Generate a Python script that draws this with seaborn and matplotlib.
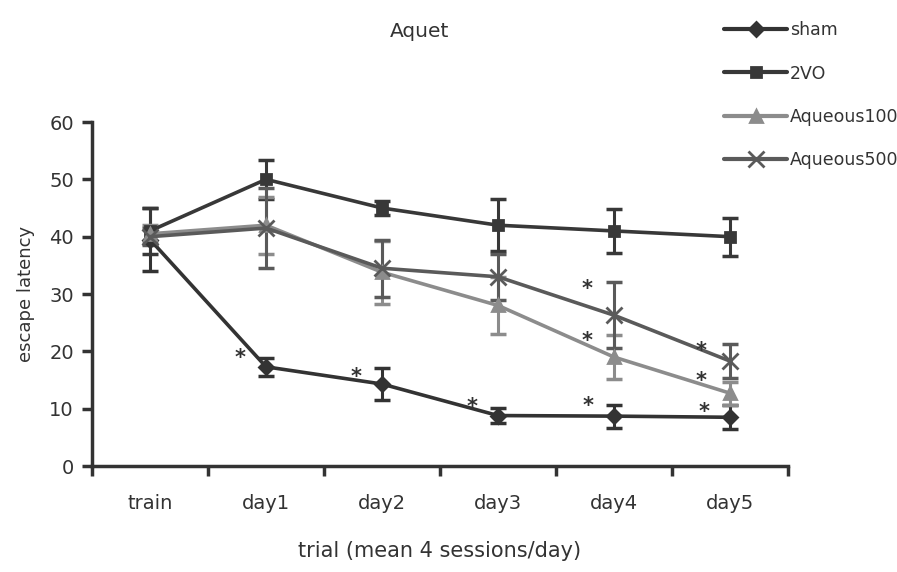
import matplotlib
matplotlib.use("Agg")
import matplotlib.pyplot as plt
import seaborn as sns
import pandas as pd
import numpy as np

trials = ["train", "day1", "day2", "day3", "day4", "day5"]
sham = [39.5, 17.3, 14.3, 8.8, 8.7, 8.5]
sham_err = [5.5, 1.6, 2.8, 1.3, 2.0, 2.1]
vo2 = [41.0, 50.0, 45.0, 42.0, 41.0, 40.0]
vo2_err = [4.0, 3.4, 1.3, 4.5, 3.9, 3.3]
aq100 = [40.5, 42.0, 33.8, 28.0, 19.0, 12.7]
aq100_err = [1.5, 5.0, 5.5, 5.0, 3.8, 2.0]
aq500 = [40.0, 41.5, 34.5, 33.0, 26.3, 18.3]
aq500_err = [1.5, 7.0, 5.0, 4.0, 5.8, 3.0]
series_names = ["sham", "2VO", "Aqueous100", "Aqueous500"]

values = [sham, vo2, aq100, aq500]
errors = [sham_err, vo2_err, aq100_err, aq500_err]

rows = []
for name, vals, errs in zip(series_names, values, errors):
    for i, (t, v, e) in enumerate(zip(trials, vals, errs)):
        rows.append({"group": name, "pos": i, "trial": t, "latency": v, "err": e})
df = pd.DataFrame(rows)

sns.set_theme(style="white")
plt.rcParams["font.family"] = ["DejaVu Sans"]

fig = plt.figure(figsize=(8.97, 5.72), dpi=100)
ax = fig.add_axes([0.1026, 0.1853, 0.7759, 0.6014])

tc = "#333333"
colors = {"sham": "#333333", "2VO": "#383838", "Aqueous100": "#8c8c8c", "Aqueous500": "#5a5a5a"}
markers = {"sham": "D", "2VO": "s", "Aqueous100": "^", "Aqueous500": "x"}
msizes = {"sham": 7, "2VO": 7, "Aqueous100": 8, "Aqueous500": 12}

for name in series_names:
    sub = df[df["group"] == name]
    ax.errorbar(sub["pos"], sub["latency"], yerr=sub["err"], fmt="none",
                ecolor=colors[name], elinewidth=2.2, capsize=6, capthick=2.5, zorder=2)
    sns.lineplot(data=sub, x="pos", y="latency", color=colors[name],
                 marker=markers[name], markersize=msizes[name], markeredgewidth=2,
                 markeredgecolor=colors[name], markerfacecolor=colors[name],
                 linewidth=2.6, ax=ax, legend=False, zorder=3)

# significance stars
stars = [(0.78, 18.8), (1.78, 15.5), (2.78, 10.3), (3.78, 10.5), (4.78, 9.4),
         (3.77, 30.8), (3.77, 21.8), (4.75, 20.0), (4.75, 14.8)]
for x, y in stars:
    ax.text(x, y, "*", fontsize=15, fontweight="bold", color=tc, ha="center", va="center")

ax.set_xlim(-0.5, 5.5)
ax.set_ylim(0, 60)
ax.set_yticks(np.arange(0, 61, 10))
ax.set_xticks(np.arange(-0.5, 5.6, 1.0))
ax.set_xticklabels([])
ax.set_xticks(np.arange(0, 6), minor=True)
ax.set_xticklabels(trials, minor=True)
ax.tick_params(axis="x", which="major", direction="out", length=7, width=2.5, color=tc, bottom=True)
ax.tick_params(axis="x", which="minor", length=0, pad=20, labelsize=14, labelcolor=tc)
ax.tick_params(axis="y", direction="out", length=7, width=2.5, color=tc, left=True,
               labelsize=14, labelcolor=tc, pad=6)

for s in ["top", "right"]:
    ax.spines[s].set_visible(False)
for s in ["left", "bottom"]:
    ax.spines[s].set_linewidth(2.5)
    ax.spines[s].set_color(tc)

ax.set_xlabel("trial (mean 4 sessions/day)", fontsize=15, color=tc, labelpad=20)
ax.set_ylabel("escape latency", fontsize=13, color=tc, labelpad=10)
fig.text(0.468, 0.945, "Aquet", fontsize=14.5, color=tc, ha="center", va="center")

from matplotlib.lines import Line2D
handles = [Line2D([], [], color=colors[n], marker=markers[n], linewidth=3,
                  markersize=msizes[n], markeredgewidth=2, markerfacecolor=colors[n],
                  markeredgecolor=colors[n]) for n in series_names]
fig.legend(handles, series_names, loc="upper left", bbox_to_anchor=(0.79, 0.99),
           frameon=False, fontsize=12.5, handlelength=3.6, labelspacing=1.45,
           handletextpad=0.2, labelcolor=tc)

fig.savefig("out.png", dpi=100)
